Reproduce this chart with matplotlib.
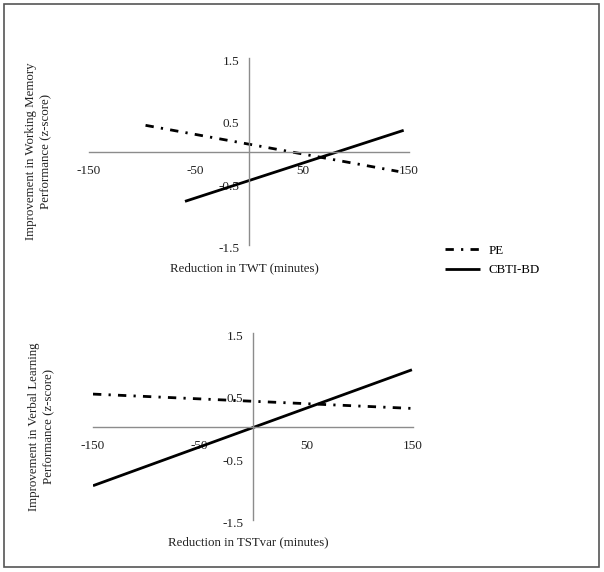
import matplotlib
matplotlib.use("Agg")
import matplotlib.pyplot as plt
from matplotlib.patches import Rectangle
from matplotlib.transforms import ScaledTranslation

plt.rcParams['font.family'] = ['Liberation Serif', 'DejaVu Serif']

# Data
x_ticks = [-150, -50, 50, 150]
y_ticks = [-1.5, -0.5, 0.5, 1.5]
x_tick_labels = ['-150', '-50', '50', '150']
y_tick_labels = ['-1.5', '-0.5', '0.5', '1.5']

top_pe_x = [-97, 140]
top_pe_y = [0.42, -0.32]
top_cbti_x = [-60, 145]
top_cbti_y = [-0.80, 0.34]

bot_pe_x = [-150, 149]
bot_pe_y = [0.52, 0.29]
bot_cbti_x = [-150, 149]
bot_cbti_y = [-0.95, 0.91]

series_names = ['PE', 'CBTI-BD']

W, H = 604, 572
fig = plt.figure(figsize=(W / 100, H / 100), dpi=100)

axis_col = '#8c8c8c'
pe_style = (0, (3, 2.6, 0.8, 2.6))
LW = 2.0


def rect_center_y(rect):
    return 1 - (rect[1] + rect[3] / 2)


def make_panel(rect, pe_x, pe_y, cb_x, cb_y, ylabel, xlabel, ylabel_x, xlabel_y):
    ax = fig.add_axes(rect)
    ax.set_xlim(-150, 150)
    ax.set_ylim(-1.5, 1.5)
    for s in ['top', 'right']:
        ax.spines[s].set_visible(False)
    ax.spines['left'].set_position('zero')
    ax.spines['bottom'].set_position('zero')
    for s in ['left', 'bottom']:
        ax.spines[s].set_color(axis_col)
        ax.spines[s].set_linewidth(1.0)
    ax.set_xticks(x_ticks)
    ax.set_xticklabels(x_tick_labels)
    ax.set_yticks(y_ticks)
    ax.set_yticklabels(y_tick_labels)
    ax.tick_params(axis='x', length=0, pad=10, labelsize=9.5, colors='#222222')
    ax.tick_params(axis='y', length=0, pad=7, labelsize=9.5, colors='#222222')
    off = ScaledTranslation(0, -2.5 / 100, fig.dpi_scale_trans)
    for lab in ax.get_yticklabels():
        lab.set_transform(lab.get_transform() + off)
    l1, = ax.plot(pe_x, pe_y, color='black', lw=LW, linestyle=pe_style,
                  solid_capstyle='butt', dash_capstyle='butt')
    l2, = ax.plot(cb_x, cb_y, color='black', lw=LW, solid_capstyle='butt')
    ax.patch.set_alpha(0)
    fig.text(ylabel_x / W, 1 - rect_center_y(rect), ylabel, rotation=90,
             ha='center', va='center', fontsize=9.3, linespacing=1.35, color='#222222')
    fig.text((rect[0] + rect[2] / 2) - 5 / W, 1 - xlabel_y / H, xlabel,
             ha='center', va='center', fontsize=9.3, color='#222222')
    return ax, l1, l2


top_rect = [89 / W, 1 - 245 / H, 320 / W, 187 / H]
bot_rect = [93 / W, 1 - 520 / H, 320 / W, 187 / H]

ax1, l1, l2 = make_panel(top_rect, top_pe_x, top_pe_y, top_cbti_x, top_cbti_y,
                         'Improvement in Working Memory\nPerformance (z-score)',
                         'Reduction in TWT (minutes)', 39, 268)
ax2, _, _ = make_panel(bot_rect, bot_pe_x, bot_pe_y, bot_cbti_x, bot_cbti_y,
                       'Improvement in Verbal Learning\nPerformance (z-score)',
                       'Reduction in TSTvar (minutes)', 42, 542)

fig.legend([l1, l2], series_names, loc='upper left',
           bbox_to_anchor=(433 / W, 1 - 233 / H), frameon=False,
           fontsize=9.3, handlelength=2.7, labelspacing=0.6, handletextpad=0.7)

fig.patches.append(Rectangle((3.5 / W, 1 - 567 / H), 595 / W, 563 / H,
                             transform=fig.transFigure, fill=False,
                             edgecolor='#555555', lw=1.2))

fig.savefig('out.png', dpi=100)
